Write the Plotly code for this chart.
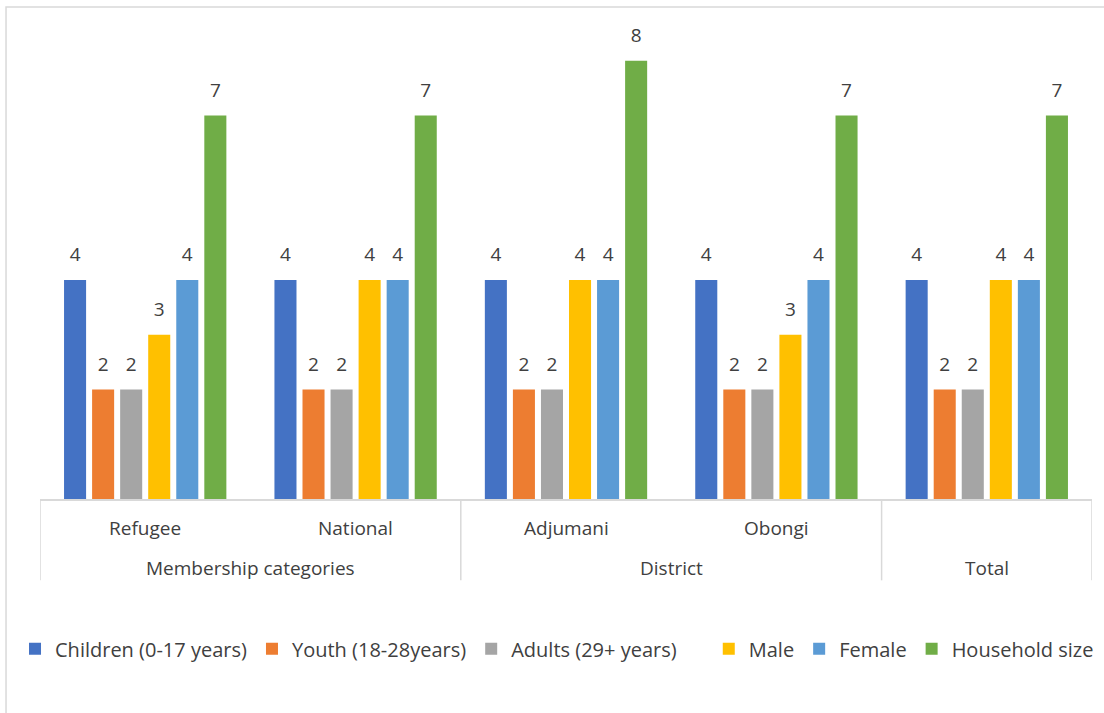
import plotly.graph_objects as go

categories = ["Refugee", "National", "Adjumani", "Obongi", "Total"]
inner_labels = ["Refugee", "National", "Adjumani", "Obongi", ""]
outer_groups = ["Membership categories", "District", "Total"]
outer_spans = [(0, 1), (2, 3), (4, 4)]

series_names = ["Children (0-17 years)", "Youth (18-28years)", "Adults (29+ years)",
                "Male", "Female", "Household size"]
children = [4, 4, 4, 4, 4]
youth = [2, 2, 2, 2, 2]
adults = [2, 2, 2, 2, 2]
male = [3, 4, 4, 3, 4]
female = [4, 4, 4, 4, 4]
household = [7, 7, 8, 7, 7]
series_values = [children, youth, adults, male, female, household]
colors = ["#4472C4", "#ED7D31", "#A5A5A5", "#FFC000", "#5B9BD5", "#70AD47"]
legend_ids = ["legend", "legend", "legend", "legend2", "legend2", "legend2"]

FONT = "Open Sans"
TXT = "#404040"
LINE = "#D9D9D9"

fig = go.Figure()
for name, vals, col, lg in zip(series_names, series_values, colors, legend_ids):
    fig.add_trace(go.Bar(x=categories, y=vals, name=name, marker_color=col,
                         marker_line_width=0, legend=lg))
for name, vals in zip(series_names, series_values):
    fig.add_trace(go.Scatter(x=categories, y=vals, mode="markers+text",
                             text=[str(v) for v in vals], textposition="top center",
                             marker=dict(size=21, opacity=0),
                             textfont=dict(family=FONT, size=19, color=TXT),
                             showlegend=False, hoverinfo="skip", cliponaxis=False))

annotations = []
for i, lab in enumerate(inner_labels):
    if lab:
        annotations.append(dict(x=i, y=-0.058, xref="x", yref="paper", text=lab,
                                showarrow=False, yanchor="middle",
                                font=dict(family=FONT, size=19, color=TXT)))
for g, (a, b) in zip(outer_groups, outer_spans):
    annotations.append(dict(x=(a + b) / 2, y=-0.14, xref="x", yref="paper", text=g,
                            showarrow=False, yanchor="middle",
                            font=dict(family=FONT, size=19, color=TXT)))

shapes = []
for xb in [-0.5, 1.5, 3.5, 4.5]:
    shapes.append(dict(type="line", xref="x", yref="paper", x0=xb, x1=xb,
                       y0=0, y1=-0.165, line=dict(color=LINE, width=1.5)))
shapes.append(dict(type="rect", xref="paper", yref="paper", x0=-0.0323, x1=1.03,
                   y0=-0.5, y1=0.998, line=dict(color=LINE, width=1.5), layer="below"))

legend_common = dict(orientation="h", xref="container", yref="container",
                     y=0.09, xanchor="left", yanchor="middle",
                     font=dict(family=FONT, size=20, color=TXT),
                     itemwidth=30, traceorder="normal", bgcolor="rgba(0,0,0,0)")

fig.update_layout(
    width=1104, height=713,
    margin=dict(l=40, r=12, t=6, b=214),
    paper_bgcolor="white", plot_bgcolor="white",
    barmode="group", bargap=0.20, bargroupgap=0.214,
    scattermode="group", scattergap=0.20,
    xaxis=dict(type="category", range=[-0.5, 4.5], showticklabels=False,
               showline=True, linecolor=LINE, linewidth=1.5, showgrid=False,
               zeroline=False, ticks=""),
    yaxis=dict(range=[0, 9], visible=False, showgrid=False, zeroline=False),
    legend=dict(x=0.0136, **legend_common),
    legend2=dict(x=0.642, **legend_common),
    annotations=annotations, shapes=shapes,
    font=dict(family=FONT, color=TXT),
    showlegend=True,
)

fig.write_html("out.html")
